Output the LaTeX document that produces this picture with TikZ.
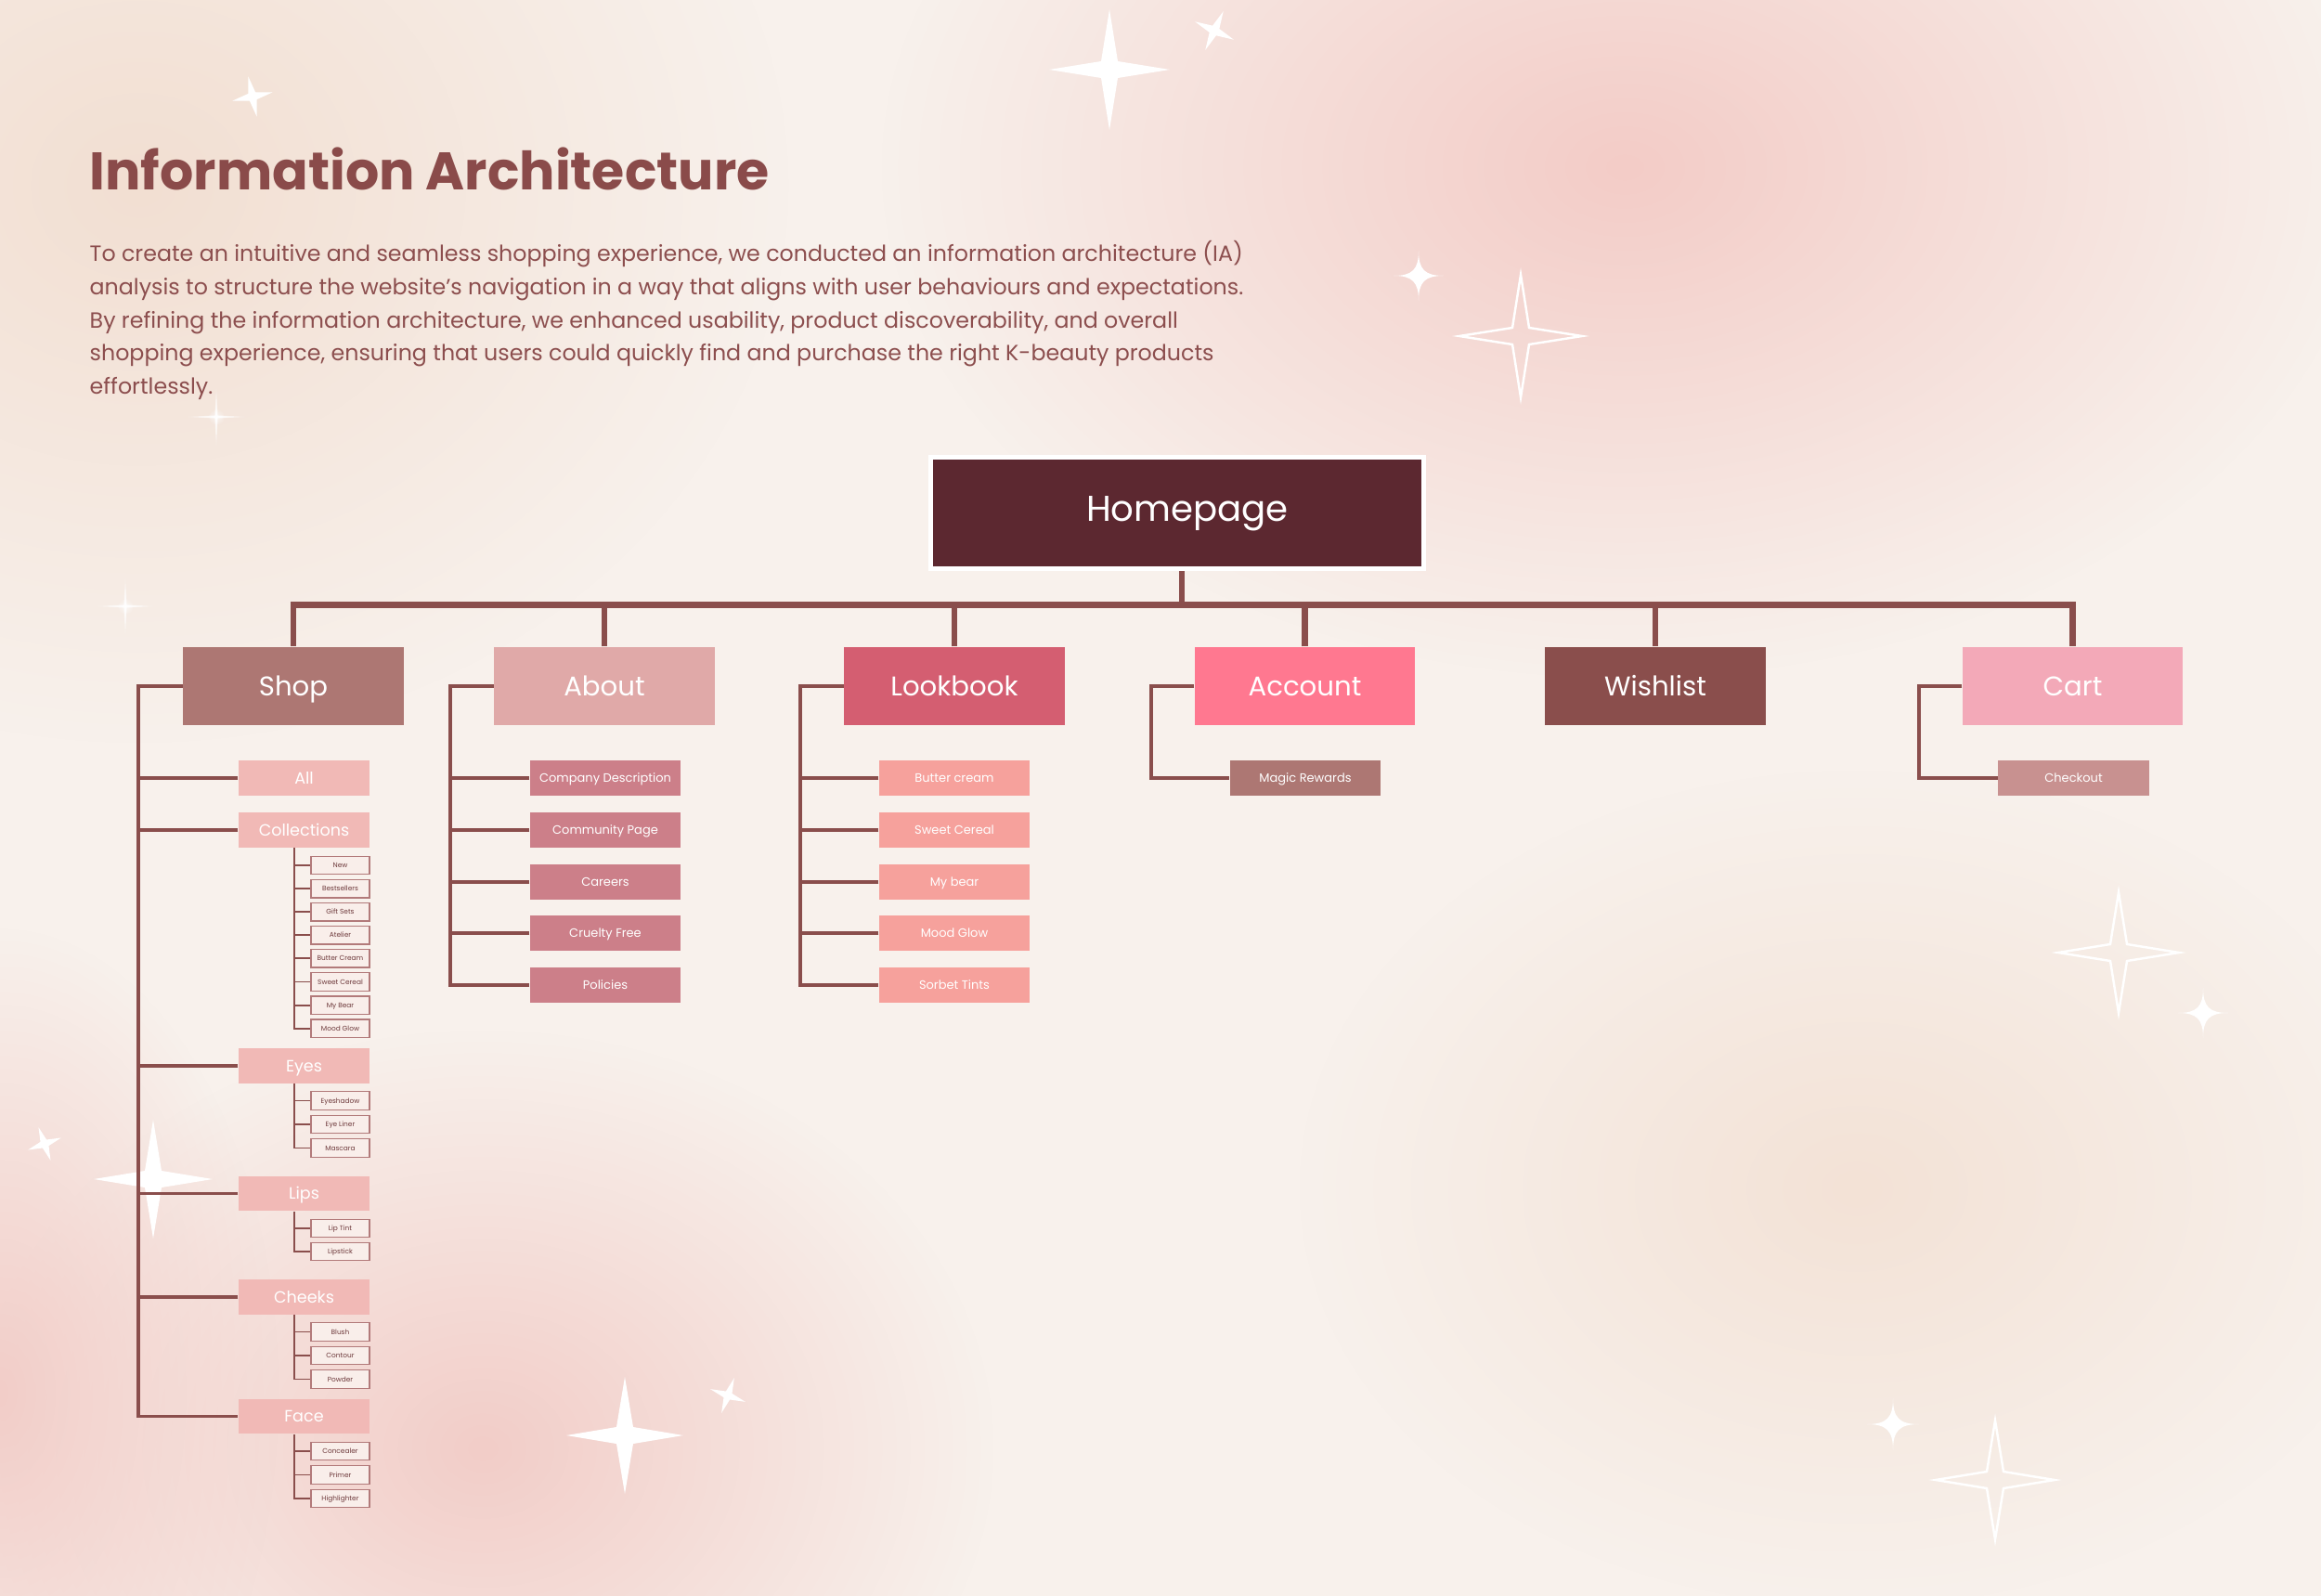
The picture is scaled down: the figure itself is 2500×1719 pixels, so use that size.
\documentclass[tikz,border=0pt]{standalone}
\usepackage{fontspec}
\setmainfont{Poppins}
\usetikzlibrary{fadings}
\definecolor{bgC}{HTML}{F8F1EC}
\definecolor{pinkA}{HTML}{F3CCC7}
\definecolor{pinkB}{HTML}{F2CDC8}
\definecolor{beigeA}{HTML}{F2DFD2}
\definecolor{beigeB}{HTML}{F3E2D6}
\definecolor{titleC}{HTML}{8A4B4A}
\definecolor{paraC}{HTML}{8C4E4E}
\definecolor{homeC}{HTML}{5C2830}
\definecolor{shopC}{HTML}{AD7773}
\definecolor{aboutC}{HTML}{E0A9A8}
\definecolor{lookC}{HTML}{D45E71}
\definecolor{acctC}{HTML}{FF7890}
\definecolor{wishC}{HTML}{8A4E4C}
\definecolor{cartC}{HTML}{F3A9B8}
\definecolor{lineC}{HTML}{8A4E4C}
\definecolor{shopkid}{HTML}{F1B9B6}
\definecolor{aboutkid}{HTML}{CC7F89}
\definecolor{lookkid}{HTML}{F6A19C}
\definecolor{magicC}{HTML}{AD7773}
\definecolor{checkC}{HTML}{C89190}
\definecolor{subfill}{HTML}{F9EEEA}
\definecolor{subline}{HTML}{B27A7A}
\definecolor{subtext}{HTML}{6E3A3C}
\tikzfading[name=softblob, inner color=transparent!0, outer color=transparent!100]
\pgfdeclarelayer{bglayer}
\pgfsetlayers{bglayer,main}
\newcommand{\starF}[5]{\begin{scope}[shift={(#1,#2)},rotate=#5]\fill[white] (0,-#3) -- (#4,-#4) -- (#3,0) -- (#4,#4) -- (0,#3) -- (-#4,#4) -- (-#3,0) -- (-#4,-#4) -- cycle;\end{scope}}
\newcommand{\starO}[4]{\begin{scope}[shift={(#1,#2)}]\draw[white,line width=0.7pt,line join=miter] (0,-#3) -- (#4,-#4) -- (#3,0) -- (#4,#4) -- (0,#3) -- (-#4,#4) -- (-#3,0) -- (-#4,-#4) -- cycle;\end{scope}}
\newcommand{\starC}[3]{\begin{scope}[shift={(#1,#2)}]\fill[white] (0,-#3) .. controls (0,{-0.25*#3}) and ({0.25*#3},0) .. (#3,0) .. controls ({0.25*#3},0) and (0,{0.25*#3}) .. (0,#3) .. controls (0,{0.25*#3}) and ({-0.25*#3},0) .. (-#3,0) .. controls ({-0.25*#3},0) and (0,{-0.25*#3}) .. (0,-#3) -- cycle;\end{scope}}
\newcommand{\starG}[3]{\begin{scope}[shift={(#1,#2)}]\fill[white,path fading=softblob] (0,-#3) -- (1.5,-1.5) -- (#3,0) -- (1.5,1.5) -- (0,#3) -- (-1.5,1.5) -- (-#3,0) -- (-1.5,-1.5) -- cycle;\fill[white,opacity=0.6,path fading=softblob] (0,0) circle (0.09cm);\end{scope}}
\begin{document}
\begin{tikzpicture}[x=0.01cm,y=-0.01cm,
 lbl/.style={rectangle,inner sep=0pt,text depth=0pt},
 top/.style={lbl,text height=5.8pt,minimum width=2.37cm,minimum height=0.84cm,text=white,font=\fontsize{8.3}{10}\selectfont},
 kid/.style={lbl,text height=3.5pt,minimum width=1.41cm,minimum height=0.375cm,fill=shopkid,text=white,font=\fontsize{5}{6}\selectfont},
 sub/.style={lbl,text height=1.47pt,minimum width=0.63cm,minimum height=0.195cm,fill=subfill,draw=subline,line width=0.4pt,text=subtext,font=\fontsize{2.1}{2.5}\selectfont},
 mid/.style={lbl,text height=2.6pt,minimum width=1.62cm,minimum height=0.38cm,text=white,font=\fontsize{3.7}{4.5}\selectfont},
 para/.style={anchor=base west,inner sep=0pt,text=paraC,font=\fontsize{6.75}{10}\selectfont},
 trunk/.style={draw=lineC,line width=1.9pt,line join=miter},
 side/.style={draw=lineC,line width=1.1pt,line join=miter},
 twig/.style={draw=lineC,line width=0.55pt,line join=miter}]
\useasboundingbox (0,0) rectangle (2500,1719);
\begin{pgfonlayer}{bglayer}
\begin{scope}
\clip (0,0) rectangle (2500,1719);
\fill[bgC] (0,0) rectangle (2500,1719);
\fill[beigeA,path fading=softblob] (150,200) ellipse [x radius=7cm,y radius=6cm];
\fill[pinkA,path fading=softblob] (1750,180) ellipse [x radius=8cm,y radius=5.5cm];
\fill[pinkB,path fading=softblob] (520,1560) ellipse [x radius=5.5cm,y radius=4.5cm];
\fill[pinkB,path fading=softblob] (0,1500) ellipse [x radius=3cm,y radius=5cm];
\fill[beigeB,path fading=softblob] (2000,1280) ellipse [x radius=6cm,y radius=4.5cm];
\end{scope}
\starF{1195}{75}{65}{9}{0}
\starF{272}{104}{22}{4}{12}
\starF{1308}{33}{23}{4}{-25}
\starF{165}{1270}{64}{9}{0}
\starF{673}{1546}{63}{9}{0}
\starF{48}{1232}{19}{3.5}{20}
\starF{784}{1503}{20}{3.5}{-20}
\starC{1528}{297}{27}
\starC{2373}{1091}{27}
\starC{2039}{1534}{28}
\starO{1638}{362}{66}{9}
\starO{2282}{1026}{65}{9}
\starO{2149}{1594}{64}{9}
\starG{233}{449}{36}
\starG{135}{653}{35}
\end{pgfonlayer}
% title and text
\node[anchor=base west,inner sep=0pt,text=titleC,font=\fontsize{16.2}{20}\selectfont\bfseries] (title) at (96,204.5) {Information Architecture};
\node[para] (p1) at (96,282) {To create an intuitive and seamless shopping experience, we conducted an information architecture (IA)};
\node[para] (p2) at (96,318) {analysis to structure the website’s navigation in a way that aligns with user behaviours and expectations.};
\node[para] (p3) at (96,354) {By refining the information architecture, we enhanced usability, product discoverability, and overall};
\node[para] (p4) at (96,389) {shopping experience, ensuring that users could quickly find and purchase the right K-beauty products};
\node[para] (p5) at (96,425) {effortlessly.};
% homepage
\node[lbl,text height=5.4pt,minimum width=5.30cm,minimum height=1.20cm,fill=homeC,draw=white,line width=1.4pt,text=white,font=\fontsize{11}{13}\selectfont] (home) at (1268,552.5) {\hspace*{0.22cm}Homepage};
% top level
\node[top,fill=shopC] (shop) at (316,739) {Shop};
\node[top,fill=aboutC] (about) at (651,739) {About};
\node[top,fill=lookC] (look) at (1028,739) {Lookbook};
\node[top,fill=acctC] (acct) at (1405.5,739) {Account};
\node[top,fill=wishC] (wish) at (1783,739) {Wishlist};
\node[top,fill=cartC] (cart) at (2232.5,739) {Cart};
% shop kids
\node[kid] (all) at (327.5,838) {All};
\node[kid] (coll) at (327.5,894) {Collections};
\node[kid] (eyes) at (327.5,1148) {Eyes};
\node[kid] (lips) at (327.5,1285.5) {Lips};
\node[kid] (cheeks) at (327.5,1397) {Cheeks};
\node[kid] (face) at (327.5,1525.5) {Face};
% sub items
\foreach \t [count=\i] in {New,Bestsellers,Gift Sets,Atelier,Butter Cream,Sweet Cereal,My Bear,Mood Glow}
  \node[sub] (c\i) at (366.5,{932+(\i-1)*25.1}) {\t};
\foreach \t [count=\i] in {Eyeshadow,Eye Liner,Mascara}
  \node[sub] (e\i) at (366.5,{1185.5+(\i-1)*25.5}) {\t};
\foreach \t [count=\i] in {Lip Tint,Lipstick}
  \node[sub] (l\i) at (366.5,{1323+(\i-1)*25}) {\t};
\foreach \t [count=\i] in {Blush,Contour,Powder}
  \node[sub] (k\i) at (366.5,{1434.5+(\i-1)*25.5}) {\t};
\foreach \t [count=\i] in {Concealer,Primer,Highlighter}
  \node[sub] (f\i) at (366.5,{1563+(\i-1)*25.5}) {\t};
% about / lookbook kids
\foreach \t [count=\i] in {Company Description,Community Page,Careers,Cruelty Free,Policies}
  \node[mid,fill=aboutkid] (a\i) at (652,{838+(\i-1)*55.8}) {\t};
\foreach \t [count=\i] in {Butter cream,Sweet Cereal,My bear,Mood Glow,Sorbet Tints}
  \node[mid,fill=lookkid] (b\i) at (1028,{838+(\i-1)*55.8}) {\t};
\node[mid,fill=magicC] (magic) at (1406,838) {Magic Rewards};
\node[mid,fill=checkC] (checkout) at (2233.5,838) {Checkout};
% coordinates for spines
\coordinate (barY) at (0,651.5);
\coordinate (homeD) at ([xshift=0.05cm]home.south);
\coordinate (shopS) at (149,739);
\coordinate (aboutS) at (485,739);
\coordinate (lookS) at (862,739);
\coordinate (acctS) at (1240,739);
\coordinate (cartS) at (2067,739);
\coordinate (collS) at ([xshift=-0.105cm]coll.south);
\coordinate (eyesS) at ([xshift=-0.105cm]eyes.south);
\coordinate (lipsS) at ([xshift=-0.105cm]lips.south);
\coordinate (cheeksS) at ([xshift=-0.105cm]cheeks.south);
\coordinate (faceS) at ([xshift=-0.105cm]face.south);
\begin{pgfonlayer}{bglayer}
\draw[trunk] (shop.north) |- (barY -| cart.north) -- (cart.north);
\foreach \n in {about,look,acct,wish} \draw[trunk] (\n.north) -- (\n.north |- barY);
\draw[trunk] (homeD) -- (homeD |- barY);
% shop spine
\draw[side] (shop.west) -- (shopS) |- (face.west);
\foreach \n in {all,coll,eyes,lips,cheeks} \draw[side] (\n.west) -- (\n.west -| shopS);
\draw[twig] (collS) |- (c8.west);
\foreach \i in {1,...,7} \draw[twig] (c\i.west) -- (c\i.west -| collS);
\draw[twig] (eyesS) |- (e3.west);
\foreach \i in {1,2} \draw[twig] (e\i.west) -- (e\i.west -| eyesS);
\draw[twig] (lipsS) |- (l2.west);
\draw[twig] (l1.west) -- (l1.west -| lipsS);
\draw[twig] (cheeksS) |- (k3.west);
\foreach \i in {1,2} \draw[twig] (k\i.west) -- (k\i.west -| cheeksS);
\draw[twig] (faceS) |- (f3.west);
\foreach \i in {1,2} \draw[twig] (f\i.west) -- (f\i.west -| faceS);
% other spines
\draw[side] (about.west) -- (aboutS) |- (a5.west);
\foreach \i in {1,...,4} \draw[side] (a\i.west) -- (a\i.west -| aboutS);
\draw[side] (look.west) -- (lookS) |- (b5.west);
\foreach \i in {1,...,4} \draw[side] (b\i.west) -- (b\i.west -| lookS);
\draw[side] (acct.west) -- (acctS) |- (magic.west);
\draw[side] (cart.west) -- (cartS) |- (checkout.west);
\end{pgfonlayer}
\end{tikzpicture}
\end{document}
